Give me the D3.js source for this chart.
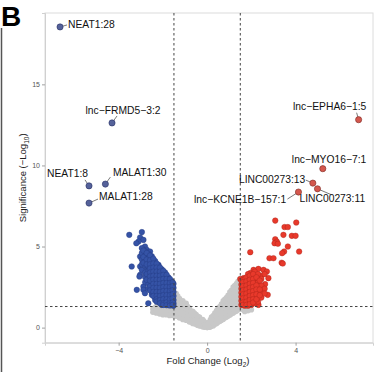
<!DOCTYPE html>
<html>
<head>
<meta charset="utf-8">
<script src="https://cdn.jsdelivr.net/npm/d3@7"></script>
<style>
  html, body { margin: 0; padding: 0; background: #fff; }
  svg { display: block; font-family: "Liberation Sans", Arial, sans-serif; }
</style>
</head>
<body>
<div id="chart"></div>
<script>
// ---- data (log2 fold change, -log10 p) ----
const grayPoints = [
  [-2.45,0.95],[-2.45,1.15],[-2.3,0.9],[-2.3,1.1],[-2.3,1.3],
  [-2.15,0.85],[-2.15,1.05],[-2.15,1.25],[-2.15,1.5],
  [-2.0,0.8],[-2.0,1.0],[-2.0,1.2],[-2.0,1.5],
  [-1.85,0.8],[-1.85,1.0],[-1.85,1.2],[-1.85,1.45],
  [-1.7,0.75],[-1.7,0.95],[-1.7,1.15],[-1.7,1.4],
  [-1.55,0.75],[-1.55,0.95],[-1.55,1.15],[-1.55,1.4],[-1.55,1.7],[-1.55,2.0],
  [-1.4,0.7],[-1.4,0.9],[-1.4,1.1],[-1.4,1.35],[-1.4,1.6],[-1.4,1.9],[-1.4,2.1],
  [-1.25,0.6],[-1.25,0.8],[-1.25,1.0],[-1.25,1.25],[-1.25,1.5],[-1.25,1.8],
  [-1.1,0.5],[-1.1,0.7],[-1.1,0.9],[-1.1,1.15],[-1.1,1.4],[-1.1,1.65],
  [-0.95,0.45],[-0.95,0.65],[-0.95,0.85],[-0.95,1.05],[-0.95,1.3],[-0.95,1.5],
  [-0.8,0.35],[-0.8,0.55],[-0.8,0.75],[-0.8,0.95],[-0.8,1.2],
  [-0.65,0.25],[-0.65,0.45],[-0.65,0.65],[-0.65,0.85],[-0.65,1.0],
  [-0.5,0.2],[-0.5,0.4],[-0.5,0.6],[-0.5,0.8],
  [-0.35,0.1],[-0.35,0.3],[-0.35,0.5],[-0.35,0.65],
  [-0.2,0.05],[-0.2,0.2],[-0.2,0.4],[-0.2,0.5],
  [-0.1,0.02],[-0.1,0.15],[-0.1,0.3],
  [0,0.0],[0,0.15],[0,0.3],
  [0.1,0.03],[0.1,0.2],[0.1,0.35],
  [0.2,0.08],[0.2,0.25],[0.2,0.45],[0.2,0.65],
  [0.35,0.2],[0.35,0.4],[0.35,0.65],[0.35,0.9],
  [0.5,0.33],[0.5,0.55],[0.5,0.8],[0.5,1.0],[0.5,1.2],
  [0.65,0.46],[0.65,0.7],[0.65,0.95],[0.65,1.2],[0.65,1.45],
  [0.8,0.6],[0.8,0.85],[0.8,1.1],[0.8,1.35],[0.8,1.6],[0.8,1.75],
  [0.95,0.72],[0.95,0.95],[0.95,1.2],[0.95,1.45],[0.95,1.7],[0.95,2.0],
  [1.1,0.85],[1.1,1.1],[1.1,1.35],[1.1,1.6],[1.1,1.85],[1.1,2.1],[1.1,2.3],
  [1.25,0.98],[1.25,1.2],[1.25,1.45],[1.25,1.7],[1.25,1.95],[1.25,2.2],[1.25,2.45],[1.25,2.6],
  [1.4,1.1],[1.4,1.3],[1.4,1.55],[1.4,1.8],[1.4,2.05],[1.4,2.3],[1.4,2.55],[1.4,2.85],
  [1.55,1.2],[1.55,1.4],[1.55,1.65],[1.55,1.9],[1.55,2.15],[1.55,2.4],[1.55,2.65],[1.55,2.95],
  [1.7,1.0],[1.7,1.2],[1.85,1.05],[1.85,1.25],[2.0,1.1],
  // in-between points of the dense band
  [-2.38,1.0],[-2.38,1.2],[-2.23,0.95],[-2.23,1.15],[-2.08,0.88],[-2.08,1.1],[-2.08,1.35],
  [-1.93,0.85],[-1.93,1.1],[-1.93,1.35],[-1.78,0.85],[-1.78,1.1],[-1.78,1.3],
  [-1.63,0.82],[-1.63,1.05],[-1.63,1.3],[-1.63,1.6],
  [-1.48,0.8],[-1.48,1.0],[-1.48,1.25],[-1.48,1.5],[-1.48,1.8],
  [-1.33,0.75],[-1.33,0.95],[-1.33,1.2],[-1.33,1.45],[-1.33,1.7],[-1.33,1.95],
  [-1.18,0.65],[-1.18,0.85],[-1.18,1.1],[-1.18,1.35],[-1.18,1.6],
  [-1.03,0.55],[-1.03,0.8],[-1.03,1.0],[-1.03,1.25],[-1.03,1.5],
  [-0.88,0.45],[-0.88,0.7],[-0.88,0.9],[-0.88,1.1],[-0.88,1.3],
  [-0.73,0.35],[-0.73,0.55],[-0.73,0.8],[-0.73,1.0],
  [-0.58,0.25],[-0.58,0.5],[-0.58,0.7],[-0.58,0.9],
  [-0.43,0.15],[-0.43,0.35],[-0.43,0.55],[-0.43,0.7],
  [-0.28,0.1],[-0.28,0.25],[-0.28,0.45],[-0.15,0.05],[-0.15,0.25],[-0.15,0.4],
  [-0.05,0.08],[-0.05,0.22],[0.05,0.08],[0.05,0.25],
  [0.15,0.05],[0.15,0.18],[0.15,0.38],[0.15,0.5],
  [0.28,0.12],[0.28,0.3],[0.28,0.5],[0.28,0.75],
  [0.43,0.25],[0.43,0.45],[0.43,0.7],[0.43,0.95],[0.43,1.05],
  [0.58,0.4],[0.58,0.6],[0.58,0.85],[0.58,1.1],[0.58,1.3],
  [0.73,0.52],[0.73,0.75],[0.73,1.0],[0.73,1.25],[0.73,1.5],[0.73,1.65],
  [0.88,0.65],[0.88,0.85],[0.88,1.1],[0.88,1.35],[0.88,1.6],[0.88,1.85],
  [1.03,0.78],[1.03,1.0],[1.03,1.25],[1.03,1.5],[1.03,1.75],[1.03,2.0],[1.03,2.2],
  [1.18,0.9],[1.18,1.1],[1.18,1.35],[1.18,1.6],[1.18,1.85],[1.18,2.1],[1.18,2.35],[1.18,2.5],
  [1.33,1.02],[1.33,1.25],[1.33,1.5],[1.33,1.75],[1.33,2.0],[1.33,2.25],[1.33,2.5],[1.33,2.72],
  [1.48,1.15],[1.48,1.35],[1.48,1.6],[1.48,1.85],[1.48,2.1],[1.48,2.35],[1.48,2.6],[1.48,2.85],[1.48,3.0],
  [1.63,1.1],[1.63,1.3],[1.78,1.1],[1.78,1.3],[1.93,1.15]
];

const downPoints = [
  [-3.52,5.72],[-2.95,5.89],[-3.03,5.56],[-2.88,5.41],[-3.1,5.31],[-3.2,5.2],
  [-2.81,5.0],[-2.73,4.8],[-2.58,4.69],[-3.03,4.38],[-2.88,4.28],[-2.58,4.28],
  [-2.43,4.18],[-2.35,3.98],[-2.2,3.87],[-3.41,3.77],[-3.03,3.77],[-2.95,3.56],
  [-2.73,3.67],[-3.03,3.25],[-3.06,3.15],[-2.88,2.53],[-3.18,2.33],[-2.88,2.33],
  [-2.81,2.12],[-2.5,2.02],[-2.66,1.5],[-2.05,1.4],
  [-2.95,4.9],[-2.95,4.6],[-2.95,4.2],[-2.95,3.9],
  [-2.8,4.7],[-2.8,4.45],[-2.8,4.1],[-2.8,3.85],[-2.8,3.4],[-2.8,3.1],[-2.8,2.8],
  [-2.65,4.55],[-2.65,4.3],[-2.65,4.0],[-2.65,3.75],[-2.65,3.5],[-2.65,3.25],[-2.65,3.0],[-2.65,2.7],[-2.65,2.4],
  [-2.5,4.4],[-2.5,4.1],[-2.5,3.85],[-2.5,3.6],[-2.5,3.35],[-2.5,3.1],[-2.5,2.85],[-2.5,2.6],[-2.5,2.35],[-2.5,2.2],
  [-2.35,4.1],[-2.35,3.8],[-2.35,3.55],[-2.35,3.3],[-2.35,3.05],[-2.35,2.8],[-2.35,2.55],[-2.35,2.3],[-2.35,2.05],[-2.35,1.85],[-2.35,1.7],
  [-2.2,3.8],[-2.2,3.55],[-2.2,3.3],[-2.2,3.05],[-2.2,2.8],[-2.2,2.55],[-2.2,2.3],[-2.2,2.05],[-2.2,1.8],[-2.2,1.6],
  [-2.05,3.6],[-2.05,3.35],[-2.05,3.1],[-2.05,2.85],[-2.05,2.6],[-2.05,2.35],[-2.05,2.1],[-2.05,1.85],[-2.05,1.6],[-2.05,1.45],
  [-1.9,3.4],[-1.9,3.15],[-1.9,2.9],[-1.9,2.65],[-1.9,2.4],[-1.9,2.15],[-1.9,1.9],[-1.9,1.65],[-1.9,1.45],
  [-1.75,3.1],[-1.75,2.85],[-1.75,2.6],[-1.75,2.35],[-1.75,2.1],[-1.75,1.85],[-1.75,1.6],[-1.75,1.4],
  [-1.6,2.85],[-1.6,2.6],[-1.6,2.35],[-1.6,2.1],[-1.6,1.85],[-1.6,1.6],[-1.6,1.4],
  [-1.52,2.7],[-1.52,2.45],[-1.52,2.2],[-1.52,1.95],[-1.52,1.7],[-1.52,1.5],[-1.52,1.35],
  [-2.88,4.75],[-2.88,4.35],[-2.88,4.0],
  [-2.73,4.6],[-2.73,4.2],[-2.73,3.9],[-2.73,3.3],[-2.73,2.95],
  [-2.58,4.45],[-2.58,4.15],[-2.58,3.9],[-2.58,3.65],[-2.58,3.4],[-2.58,3.15],[-2.58,2.9],[-2.58,2.55],[-2.58,2.3],
  [-2.43,4.25],[-2.43,3.95],[-2.43,3.7],[-2.43,3.45],[-2.43,3.2],[-2.43,2.95],[-2.43,2.7],[-2.43,2.45],[-2.43,2.2],[-2.43,1.95],
  [-2.28,3.95],[-2.28,3.7],[-2.28,3.45],[-2.28,3.2],[-2.28,2.95],[-2.28,2.7],[-2.28,2.45],[-2.28,2.2],[-2.28,1.95],[-2.28,1.75],[-2.28,1.6],
  [-2.13,3.7],[-2.13,3.45],[-2.13,3.2],[-2.13,2.95],[-2.13,2.7],[-2.13,2.45],[-2.13,2.2],[-2.13,1.95],[-2.13,1.7],[-2.13,1.5],
  [-1.98,3.5],[-1.98,3.25],[-1.98,3.0],[-1.98,2.75],[-1.98,2.5],[-1.98,2.25],[-1.98,2.0],[-1.98,1.75],[-1.98,1.5],[-1.98,1.4],
  [-1.83,3.25],[-1.83,3.0],[-1.83,2.75],[-1.83,2.5],[-1.83,2.25],[-1.83,2.0],[-1.83,1.75],[-1.83,1.55],[-1.83,1.38],
  [-1.68,3.0],[-1.68,2.75],[-1.68,2.5],[-1.68,2.25],[-1.68,2.0],[-1.68,1.75],[-1.68,1.5],[-1.68,1.36],
  [-1.56,2.8],[-1.56,2.55],[-1.56,2.3],[-1.56,2.05],[-1.56,1.8],[-1.56,1.55],[-1.56,1.4]
];

const upPoints = [
  [3.08,6.6],[3.5,6.2],[3.65,6.2],[4.03,6.48],[3.45,5.72],[3.83,5.66],[4.0,5.66],
  [3.08,5.45],[3.15,5.3],[3.05,5.2],[3.2,5.17],[3.65,5.0],[3.48,4.69],[3.39,4.59],
  [4.16,4.69],[1.95,4.65],[2.82,4.28],[3.0,4.28],[3.37,4.0],[3.42,3.95],
  [2.1,3.56],[2.32,3.62],[2.55,3.56],[2.7,3.46],[1.95,3.36],[2.17,3.25],[2.44,3.2],
  [1.65,3.05],[1.5,3.0],[2.77,3.05],[2.62,2.68],[2.4,2.43],[2.74,2.02],[2.32,1.4],
  [1.55,2.9],[1.55,2.65],[1.55,2.4],[1.55,2.15],[1.55,1.9],[1.55,1.65],[1.55,1.4],
  [1.7,3.0],[1.7,2.75],[1.7,2.5],[1.7,2.25],[1.7,2.0],[1.7,1.75],[1.7,1.5],[1.7,1.35],
  [1.85,3.3],[1.85,3.0],[1.85,2.75],[1.85,2.5],[1.85,2.25],[1.85,2.0],[1.85,1.75],[1.85,1.5],[1.85,1.35],
  [2.0,3.1],[2.0,2.85],[2.0,2.6],[2.0,2.35],[2.0,2.1],[2.0,1.85],[2.0,1.6],[2.0,1.4],
  [2.15,3.45],[2.15,2.95],[2.15,2.7],[2.15,2.45],[2.15,2.2],[2.15,1.95],[2.15,1.7],[2.15,1.5],
  [2.3,3.3],[2.3,2.8],[2.3,2.55],[2.3,2.2],[2.3,1.9],[2.3,1.6],
  [2.45,3.0],[2.45,2.6],[2.45,2.25],[2.45,1.85],
  [2.6,3.3],[2.6,2.4],[2.6,2.1],
  [1.62,2.8],[1.62,2.55],[1.62,2.3],[1.62,2.05],[1.62,1.8],[1.62,1.55],[1.62,1.4],
  [1.78,3.1],[1.78,2.85],[1.78,2.6],[1.78,2.35],[1.78,2.1],[1.78,1.85],[1.78,1.6],[1.78,1.4],
  [1.93,3.2],[1.93,2.95],[1.93,2.7],[1.93,2.45],[1.93,2.2],[1.93,1.95],[1.93,1.7],[1.93,1.45],
  [2.08,3.3],[2.08,3.0],[2.08,2.75],[2.08,2.5],[2.08,2.25],[2.08,2.0],[2.08,1.75],[2.08,1.55],
  [2.23,3.1],[2.23,2.6],[2.23,2.35],[2.23,2.05],[2.23,1.75],
  [2.38,2.9],[2.38,2.35],[2.38,2.0]
];

// labelled transcripts
const labelNames = ["NEAT1:28", "lnc−FRMD5−3:2", "NEAT1:8", "MALAT1:30", "MALAT1:28",
  "lnc−EPHA6−1:5", "lnc−MYO16−7:1", "LINC00273:13", "LINC00273:11", "lnc−KCNE1B−157:1"];
const labelFC = [-6.65, -4.3, -5.34, -4.6, -5.34, 6.85, 5.23, 4.78, 4.99, 4.13];
const labelSig = [18.54, 12.62, 8.74, 8.85, 7.68, 12.82, 9.8, 8.91, 8.56, 8.36];
const labelDir = ["down", "down", "down", "down", "down", "up", "up", "up", "up", "up"];

const xTicks = [-4, 0, 4];
const yTicks = [0, 5, 10, 15];
const fcCut = 1.5;
const pCut = 1.301;

// ---- layout ----
const width = 383, height = 372;
const panel = {left: 45, right: 373, top: 13, bottom: 342.7};

// repel-style label placement: text anchor offset and segment end, in px from the point
const labelLayout = [
  {dx: 8, dy: 1.5, anchor: "start", sx: 7, sy: -2},
  {dx: 11, dy: -9, anchor: "middle", sx: 5, sy: -7},
  {dx: -1, dy: -9, anchor: "end", sx: -4, sy: -6},
  {dx: 7.5, dy: -8, anchor: "start", sx: 5, sy: -7},
  {dx: 10, dy: -3, anchor: "start", sx: 9, sy: -4},
  {dx: 7.7, dy: -9.7, anchor: "end", sx: -2, sy: -7},
  {dx: 43.5, dy: -6, anchor: "end", sx: 0, sy: -3},
  {dx: -7.5, dy: -0.3, anchor: "end", sx: -7, sy: -3},
  {dx: -18, dy: 13.6, anchor: "start", sx: 14, sy: 6},
  {dx: -12.3, dy: 10.7, anchor: "end", sx: -11, sy: 7}
];

const colors = {
  gray: "#c8c8c8",
  down: "#3553a6", downStroke: "#233a80",
  up: "#e8392b", upStroke: "#a8241a",
  downLab: "#55629a", upLab: "#d4574d"
};

const svg = d3.select("#chart").append("svg")
  .attr("width", width)
  .attr("height", height);

const xScale = d3.scaleLinear().domain([-7.33, 7.5]).range([panel.left, panel.right]);
const yScale = d3.scaleLinear().domain([-0.93, 19.4]).range([panel.bottom, panel.top]);

// panel frame (light grey, like theme_bw with pale border)
svg.append("rect")
  .attr("x", panel.left).attr("y", panel.top)
  .attr("width", panel.right - panel.left).attr("height", panel.bottom - panel.top)
  .attr("fill", "none").attr("stroke", "#dcdcdc").attr("stroke-width", 1);

// axes
const xAxis = svg.append("g")
  .attr("transform", `translate(0,${panel.bottom})`)
  .call(d3.axisBottom(xScale).tickValues(xTicks).tickSize(3).tickPadding(2)
    .tickFormat(d => d < 0 ? "−" + Math.abs(d) : d));
const yAxis = svg.append("g")
  .attr("transform", `translate(${panel.left},0)`)
  .call(d3.axisLeft(yScale).tickValues(yTicks).tickSize(3).tickPadding(2));

[xAxis, yAxis].forEach(ax => {
  ax.select(".domain").attr("stroke", "#d0d0d0");
  ax.selectAll(".tick line").attr("stroke", "#a0a0a0");
  ax.selectAll(".tick text").attr("fill", "#555").style("font-size", "7px")
    .style("font-family", "'Liberation Sans', Arial, sans-serif");
});

// points: grey background cloud then significant ones
const plot = svg.append("g");
plot.selectAll(".gray").data(grayPoints).enter().append("circle")
  .attr("cx", d => xScale(d[0])).attr("cy", d => yScale(d[1]))
  .attr("r", 2.8).attr("fill", colors.gray);

plot.selectAll(".down").data(downPoints).enter().append("circle")
  .attr("cx", d => xScale(d[0])).attr("cy", d => yScale(d[1]))
  .attr("r", 2.8).attr("fill", colors.down)
  .attr("stroke", colors.downStroke).attr("stroke-width", 0.4);

plot.selectAll(".up").data(upPoints).enter().append("circle")
  .attr("cx", d => xScale(d[0])).attr("cy", d => yScale(d[1]))
  .attr("r", 2.8).attr("fill", colors.up)
  .attr("stroke", colors.upStroke).attr("stroke-width", 0.4);

// threshold lines
[-fcCut, fcCut].forEach(v => {
  svg.append("line")
    .attr("x1", xScale(v)).attr("x2", xScale(v))
    .attr("y1", panel.top).attr("y2", panel.bottom)
    .attr("stroke", "#444").attr("stroke-width", 1).attr("stroke-dasharray", "2.5,2.5");
});
svg.append("line")
  .attr("x1", panel.left).attr("x2", panel.right)
  .attr("y1", yScale(pCut)).attr("y2", yScale(pCut))
  .attr("stroke", "#444").attr("stroke-width", 1).attr("stroke-dasharray", "2.5,2.5");

// labelled points with leader segments
const labels = labelNames.map((name, i) => ({
  name, fc: labelFC[i], sig: labelSig[i], dir: labelDir[i], lay: labelLayout[i]
}));

const lab = svg.append("g");
lab.selectAll(".seg").data(labels).enter().append("line")
  .attr("x1", d => xScale(d.fc)).attr("y1", d => yScale(d.sig))
  .attr("x2", d => xScale(d.fc) + d.lay.sx).attr("y2", d => yScale(d.sig) + d.lay.sy)
  .attr("stroke", "#222").attr("stroke-width", 0.6);

lab.selectAll(".lp").data(labels).enter().append("circle")
  .attr("cx", d => xScale(d.fc)).attr("cy", d => yScale(d.sig))
  .attr("r", 3.1)
  .attr("fill", d => d.dir === "down" ? colors.downLab : colors.upLab)
  .attr("stroke", d => d.dir === "down" ? "#2a3366" : "#7a2a24")
  .attr("stroke-width", 0.6);

lab.selectAll(".lt").data(labels).enter().append("text")
  .attr("x", d => xScale(d.fc) + d.lay.dx)
  .attr("y", d => yScale(d.sig) + d.lay.dy)
  .attr("text-anchor", d => d.lay.anchor)
  .style("font-size", "10.3px")
  .attr("fill", "#111")
  .text(d => d.name);

// axis titles
const xTitle = svg.append("text")
  .attr("x", (panel.left + panel.right) / 2 - 1).attr("y", 364)
  .attr("text-anchor", "middle").style("font-size", "9.5px").attr("fill", "#222");
xTitle.append("tspan").text("Fold Change (Log");
xTitle.append("tspan").attr("dy", 2.5).style("font-size", "6.5px").text("2");
xTitle.append("tspan").attr("dy", -2.5).text(")");

const yTitle = svg.append("text")
  .attr("transform", `translate(26,${(panel.top + panel.bottom) / 2}) rotate(-90)`)
  .attr("text-anchor", "middle").style("font-size", "9.5px").attr("fill", "#222");
yTitle.append("tspan").text("Significance (−Log");
yTitle.append("tspan").attr("dy", 2.5).style("font-size", "6.5px").text("10");
yTitle.append("tspan").attr("dy", -2.5).text(")");

// panel letter and left frame rule
svg.append("text")
  .attr("x", 1).attr("y", 26)
  .style("font-size", "28px").style("font-weight", "bold").attr("fill", "#000")
  .text("B");
svg.append("line")
  .attr("x1", 1.5).attr("x2", 1.5).attr("y1", 28).attr("y2", height)
  .attr("stroke", "#555").attr("stroke-width", 1.5);
</script>
</body>
</html>
